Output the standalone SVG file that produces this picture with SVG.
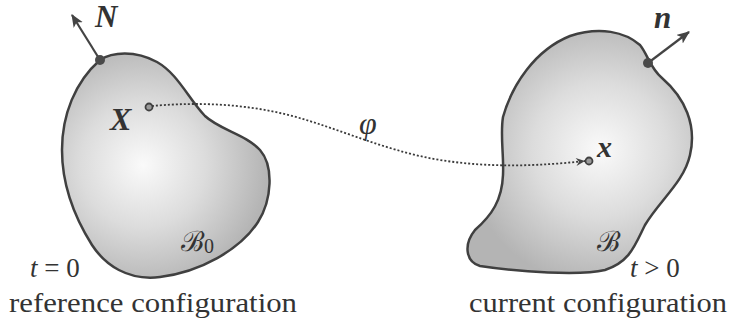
<svg xmlns="http://www.w3.org/2000/svg" width="729" height="329" viewBox="0 0 729 329">
<defs>
<radialGradient id="gL" cx="143" cy="165" r="125" gradientUnits="userSpaceOnUse">
<stop offset="0" stop-color="#fafafa"/><stop offset="0.5" stop-color="#dcdcdc"/><stop offset="1" stop-color="#b4b4b4"/>
</radialGradient>
<radialGradient id="gR" cx="600" cy="150" r="135" gradientUnits="userSpaceOnUse">
<stop offset="0" stop-color="#fafafa"/><stop offset="0.5" stop-color="#dcdcdc"/><stop offset="1" stop-color="#b4b4b4"/>
</radialGradient>
<marker id="vec" viewBox="0 0 12 10" refX="11" refY="5" markerWidth="13" markerHeight="11" markerUnits="userSpaceOnUse" orient="auto">
<path d="M0,0 L12,5 L0,10 L3,5 Z" fill="#444"/>
</marker>
<marker id="stealth" viewBox="0 0 10 10" refX="9" refY="5" markerWidth="11" markerHeight="10" markerUnits="userSpaceOnUse" orient="auto">
<path d="M0,1 L9,5 L0,9 L3,5 Z" fill="#444"/>
</marker>
</defs>
<style>
.body{stroke:#404040;stroke-width:2.5;stroke-linejoin:round}
.vec{stroke:#444;stroke-width:2.2;fill:none}
.bdot{fill:#4a4a4a}
.pdot{fill:#9a9a9a;stroke:#404040;stroke-width:1.8}
.map{stroke:#3a3a3a;stroke-width:1.8;fill:none;stroke-dasharray:2 2}
</style>
<g id="reference-body">
<path class="body" fill="url(#gL)" d="M100,60 C112,52 135,50 157,62 C178,74 188,98 205,116 C220,130 245,134 260,150 C274,166 272,200 258,222 C240,250 200,272 160,277 C128,281 105,265 92,245 C75,218 62,185 62,150 C62,115 75,82 100,60 Z"/>
<line class="vec" x1="100" y1="60" x2="72" y2="15" marker-end="url(#vec)"/>
<circle class="bdot" cx="100" cy="60" r="5"/>
<text x="95" y="27" font-family="Liberation Serif, serif" font-size="31" font-style="italic" font-weight="bold" fill="#333">N</text>
<circle class="pdot" cx="149" cy="107" r="3.5"/>
<text x="110" y="130" font-family="Liberation Serif, serif" font-size="32" font-style="italic" font-weight="bold" fill="#333">X</text>
<text x="181" y="251" font-family="DejaVu Serif, serif" font-size="28" fill="#333">ℬ<tspan font-family="Liberation Serif, serif" font-size="20" dy="2">0</tspan></text>
<text x="30" y="277" font-family="Liberation Serif, serif" font-size="27" fill="#333"><tspan font-style="italic">t</tspan> = 0</text>
<text x="9" y="312" font-family="Liberation Serif, serif" font-size="28" fill="#333" textLength="288" lengthAdjust="spacingAndGlyphs">reference configuration</text>
</g>
<g id="current-body">
<path class="body" fill="url(#gR)" d="M503,117 C512,85 535,50 570,36 C600,26 625,32 640,45 C648,55 650,68 662,78 C685,98 697,125 690,155 C684,182 660,200 645,225 C635,245 630,262 605,270 C580,276 520,272 480,266 C466,262 463,245 475,230 C492,215 502,200 503,175 C504,155 500,135 503,117 Z"/>
<line class="vec" x1="648" y1="63" x2="689" y2="32" marker-end="url(#vec)"/>
<circle class="bdot" cx="648" cy="63" r="5"/>
<text x="654" y="28" font-family="Liberation Serif, serif" font-size="31" font-style="italic" font-weight="bold" fill="#333">n</text>
<circle class="pdot" cx="589" cy="161" r="3.5"/>
<text x="597" y="157" font-family="Liberation Serif, serif" font-size="30" font-style="italic" font-weight="bold" fill="#333">x</text>
<text x="597" y="251" font-family="DejaVu Serif, serif" font-size="28" fill="#333">ℬ</text>
<text x="630" y="277" font-family="Liberation Serif, serif" font-size="27" fill="#333"><tspan font-style="italic">t</tspan> &gt; 0</text>
<text x="469" y="312" font-family="Liberation Serif, serif" font-size="28" fill="#333" textLength="258" lengthAdjust="spacingAndGlyphs">current configuration</text>
</g>
<g id="connectors">
<path class="map" d="M152,106 C185,103 232,102 280,113 C330,124 380,150 440,160 C490,168 540,166 585,161" marker-end="url(#stealth)"/>
<text x="359" y="134" font-family="Liberation Serif, serif" font-size="32" font-style="italic" fill="#333">φ</text>
</g>
</svg>
